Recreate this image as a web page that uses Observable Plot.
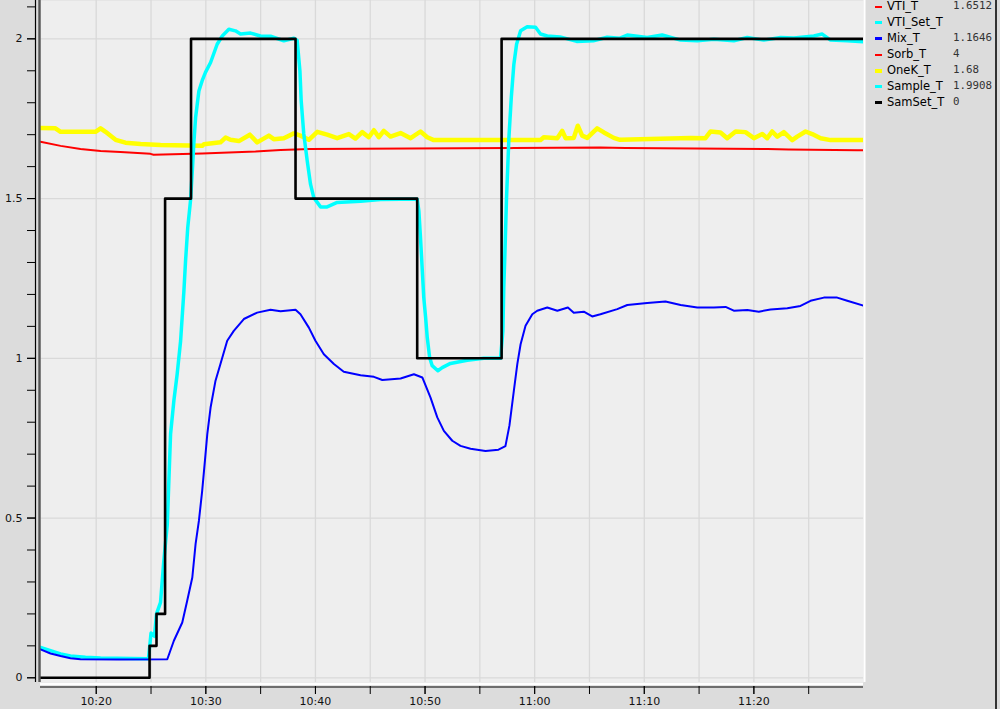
<!DOCTYPE html>
<html>
<head>
<meta charset="utf-8">
<script src="https://cdn.jsdelivr.net/npm/d3@7"></script>
<script src="https://cdn.jsdelivr.net/npm/@observablehq/plot@0.6"></script>
<style>
  html, body { margin: 0; padding: 0; background: #dcdcdc; }
  #wrap { position: relative; width: 1000px; height: 709px; overflow: hidden; background: #dcdcdc; }
  #legend .row { position: absolute; height: 16px; line-height: 16px; white-space: nowrap; }
  #legend .dash { position: absolute; left: 875px; width: 7px; }
  #legend .name { position: absolute; left: 887px; font: 11.5px "DejaVu Sans", sans-serif; color: #000; }
  #legend .val { position: absolute; left: 953px; font: 10.8px "DejaVu Sans Mono", monospace; color: #333; }
  #rborder { position: absolute; left: 995px; top: 0; width: 2px; height: 709px; background: #333; }
</style>
</head>
<body>
<div id="wrap"><div id="chart"></div><div id="legend"></div><div id="rborder"></div></div>
<script>
// ---------- data ----------
const samsetTimes = ["10:14:55","10:24:52","10:25:30","10:26:17","10:28:39","10:38:11","10:49:17","10:56:59","11:30:00"];
const samsetValues = [0, 0.1, 0.2, 1.5, 2, 1.5, 1, 2, 2];

const vtiTimes = ["10:14:55","10:16:45","10:18:34","10:20:24","10:22:13","10:24:57","10:25:14","10:29:40","10:32:06","10:34:32","10:36:49","10:39:28","10:58:04","11:06:00","11:08:17","11:21:15","11:23:10","11:29:26","11:30:00"];
const vtiValues = [1.678,1.665,1.655,1.649,1.646,1.640,1.637,1.641,1.644,1.647,1.652,1.655,1.658,1.660,1.658,1.655,1.654,1.651,1.651];

const mixTimes = ["10:14:55","10:15:50","10:16:45","10:17:39","10:18:34","10:21:57","10:26:29","10:27:05","10:27:51","10:28:18","10:28:46","10:29:04","10:29:22","10:29:40","10:29:55","10:30:08","10:30:26","10:30:53","10:31:20","10:31:57","10:32:33","10:33:28","10:34:41","10:35:54","10:36:49","10:38:11","10:38:38","10:39:24","10:40:00","10:40:46","10:41:41","10:42:35","10:44:07","10:45:20","10:46:06","10:47:46","10:48:59","10:49:45","10:50:30","10:51:07","10:51:43","10:52:29","10:53:14","10:54:09","10:55:31","10:56:42","10:57:20","10:57:42","10:58:06","10:58:25","10:58:43","10:59:10","10:59:47","11:00:14","11:01:09","11:02:04","11:03:02","11:03:34","11:04:29","11:05:15","11:06:00","11:07:32","11:08:27","11:10:16","11:11:56","11:13:19","11:14:50","11:16:21","11:17:25","11:18:10","11:19:24","11:20:27","11:21:31","11:23:03","11:24:15","11:25:10","11:26:23","11:27:36","11:28:31","11:30:00"];
const mixValues = [0.089,0.076,0.068,0.061,0.058,0.057,0.058,0.116,0.173,0.241,0.314,0.419,0.491,0.585,0.679,0.763,0.846,0.930,0.982,1.055,1.086,1.123,1.143,1.152,1.147,1.152,1.138,1.096,1.055,1.013,0.982,0.958,0.947,0.942,0.932,0.937,0.950,0.940,0.877,0.815,0.773,0.742,0.726,0.717,0.710,0.714,0.725,0.790,0.898,0.982,1.044,1.102,1.138,1.149,1.159,1.149,1.159,1.143,1.146,1.131,1.138,1.154,1.167,1.173,1.178,1.167,1.159,1.159,1.161,1.149,1.151,1.146,1.153,1.157,1.164,1.180,1.190,1.190,1.180,1.165];

const sampleTimes = ["10:14:55","10:15:50","10:16:45","10:17:39","10:19:01","10:20:24","10:24:46","10:25:00","10:25:19","10:25:30","10:25:52","10:26:10","10:26:29","10:26:47","10:27:05","10:27:23","10:27:42","10:28:00","10:28:09","10:28:21","10:28:36","10:28:46","10:28:54","10:29:04","10:29:22","10:29:40","10:29:58","10:30:26","10:31:02","10:31:30","10:32:06","10:32:42","10:33:10","10:34:05","10:34:59","10:35:54","10:37:07","10:38:02","10:38:20","10:38:35","10:38:42","10:38:56","10:39:15","10:39:33","10:39:51","10:40:28","10:41:04","10:41:59","10:44:07","10:45:56","10:47:46","10:49:17","10:49:26","10:49:35","10:49:45","10:49:53","10:50:03","10:50:12","10:50:25","10:50:39","10:51:10","10:51:34","10:52:19","10:53:51","10:55:22","10:56:53","10:57:06","10:57:11","10:57:17","10:57:26","10:57:39","10:57:52","10:58:06","10:58:21","10:58:43","10:59:19","11:00:05","11:00:32","11:01:09","11:02:19","11:03:50","11:05:21","11:06:37","11:07:47","11:08:27","11:10:16","11:11:38","11:13:19","11:14:50","11:16:21","11:18:10","11:19:24","11:20:54","11:22:26","11:23:39","11:25:28","11:26:14","11:27:00","11:28:31","11:30:00"];
const sampleValues = [0.095,0.085,0.075,0.068,0.064,0.062,0.060,0.140,0.130,0.200,0.236,0.366,0.480,0.763,0.867,0.950,1.055,1.211,1.305,1.409,1.493,1.587,1.670,1.754,1.837,1.869,1.895,1.926,1.983,2.009,2.030,2.025,2.015,2.018,2.009,2.008,1.994,2.002,1.995,1.900,1.806,1.703,1.618,1.545,1.503,1.474,1.474,1.488,1.492,1.497,1.498,1.498,1.462,1.378,1.274,1.190,1.128,1.065,1.003,0.977,0.961,0.971,0.984,0.994,1.000,1.000,1.086,1.222,1.326,1.503,1.691,1.816,1.920,1.983,2.025,2.038,2.036,2.015,2.009,2.006,1.992,1.994,2.005,2.002,2.012,2.004,2.012,1.996,1.994,1.999,1.994,2.004,1.996,2.004,2.003,2.009,2.015,1.996,1.994,1.991];

const onekTimes = ["10:14:55","10:16:17","10:16:45","10:18:34","10:19:56","10:20:24","10:20:51","10:21:46","10:22:40","10:24:03","10:25:52","10:29:40","10:29:49","10:31:20","10:31:48","10:32:15","10:33:01","10:34:01","10:34:41","10:35:45","10:36:12","10:37:07","10:38:02","10:38:38","10:39:24","10:40:10","10:41:04","10:41:59","10:43:03","10:43:39","10:44:16","10:44:52","10:45:20","10:45:47","10:46:14","10:46:51","10:47:46","10:48:41","10:49:35","10:50:12","10:50:48","11:00:32","11:00:50","11:02:04","11:02:31","11:02:49","11:03:34","11:03:56","11:04:20","11:04:48","11:05:42","11:06:19","11:07:13","11:07:47","11:13:19","11:14:13","11:15:35","11:16:03","11:16:57","11:17:34","11:18:20","11:19:14","11:20:00","11:20:46","11:21:13","11:21:40","11:22:08","11:22:44","11:23:30","11:23:57","11:24:43","11:25:19","11:26:05","11:27:00","11:30:00"];
const onekValues = [1.721,1.720,1.709,1.709,1.709,1.720,1.709,1.684,1.675,1.671,1.668,1.665,1.670,1.676,1.691,1.684,1.680,1.700,1.676,1.697,1.686,1.689,1.704,1.697,1.684,1.709,1.700,1.689,1.702,1.688,1.708,1.692,1.714,1.692,1.712,1.694,1.705,1.689,1.710,1.692,1.683,1.683,1.692,1.689,1.712,1.689,1.690,1.728,1.697,1.690,1.720,1.707,1.690,1.684,1.689,1.690,1.689,1.710,1.707,1.689,1.710,1.708,1.689,1.702,1.689,1.710,1.694,1.708,1.683,1.694,1.710,1.702,1.689,1.683,1.683];

const legendNames = ["VTI_T","VTI_Set_T","Mix_T","Sorb_T","OneK_T","Sample_T","SamSet_T"];
const legendColors = ["#ff0000","#00ffff","#0000ff","#ff0000","#ffff00","#00ffff","#000000"];
const legendValues = ["1.6512","","1.1646","4","1.68","1.9908","0"];

const yMinorTicks = d3.range(0, 22).map(i => i / 10);
const yMajorTicks = [0, 0.5, 1, 1.5, 2];
const xMinorTickLabels = ["10:20","10:25","10:30","10:35","10:40","10:45","10:50","10:55","11:00","11:05","11:10","11:15","11:20","11:25"];
const xMajorTickLabels = ["10:20","10:30","10:40","10:50","11:00","11:10","11:20"];
const xDomain = ["10:14:55","11:30:00"];
const yDomain = [-0.0147, 2.12];

// ---------- build ----------
const parseT = d3.utcParse("%H:%M:%S");
const parseHM = d3.utcParse("%H:%M");
const mk = (ts, vs) => ts.map((t, i) => ({t: parseT(t), v: vs[i]}));

const vti = mk(vtiTimes, vtiValues);
const mix = mk(mixTimes, mixValues);
const sample = mk(sampleTimes, sampleValues);
const onek = mk(onekTimes, onekValues);
const samset = mk(samsetTimes, samsetValues);

const xMin = parseT(xDomain[0]), xMax = parseT(xDomain[1]);
const xMinor = xMinorTickLabels.map(parseHM);
const xMajor = xMajorTickLabels.map(parseHM);

const chart = Plot.plot({
  width: 1000,
  height: 709,
  marginLeft: 40,
  marginRight: 137,
  marginTop: 0,
  marginBottom: 27,
  style: {background: "#dcdcdc", fontFamily: "DejaVu Sans, sans-serif", fontSize: "11px", color: "#111"},
  x: {type: "utc", domain: [xMin, xMax]},
  y: {domain: yDomain},
  marks: [
    Plot.frame({fill: "#eeeeee", stroke: null}),
    Plot.gridX(xMinor, {stroke: "#d9d9d9", strokeOpacity: 1, strokeWidth: 1.3}),
    Plot.gridY(yMajorTicks, {stroke: "#d9d9d9", strokeOpacity: 1, strokeWidth: 1.3}),
    Plot.line(vti, {x: "t", y: "v", stroke: "#ff0000", strokeWidth: 2, clip: true}),
    Plot.line(onek, {x: "t", y: "v", stroke: "#ffff00", strokeWidth: 4.5, clip: true}),
    Plot.line(sample, {x: "t", y: "v", stroke: "#00ffff", strokeWidth: 3.5, clip: true}),
    Plot.line(mix, {x: "t", y: "v", stroke: "#0000ff", strokeWidth: 2, clip: true}),
    Plot.line(samset, {x: "t", y: "v", stroke: "#000000", strokeWidth: 2.6, curve: "step-after", clip: true}),
    // frame edges
    Plot.ruleY([yDomain[0]], {dy: 1.5, stroke: "#ffffff", strokeWidth: 2.5}),
    Plot.ruleX([xMax], {dx: 1, stroke: "#ffffff", strokeWidth: 2}),
    Plot.ruleX([xMin], {dx: -1, stroke: "#555555", strokeWidth: 2.4}),
    // left axis
    Plot.ruleX([xMin], {dx: -5, stroke: "#000", strokeWidth: 1.2}),
    Plot.axisY(yMinorTicks, {anchor: "left", tickSize: 8, dx: -5, tickFormat: () => "", label: null, stroke: "#000"}),
    Plot.axisY(yMajorTicks, {anchor: "left", tickSize: 8, tickPadding: 5, dx: -5, tickFormat: d3.format("~g"), label: null, stroke: "#000", fill: "#111"}),
    // bottom axis
    Plot.ruleY([yDomain[0]], {dy: 4.5, stroke: "#000", strokeWidth: 1.2}),
    Plot.axisX(xMinor, {anchor: "bottom", tickSize: 8, dy: 4, tickFormat: () => "", label: null, stroke: "#000"}),
    Plot.axisX(xMajor, {anchor: "bottom", tickSize: 8, tickPadding: 3, dy: 4, tickFormat: d3.utcFormat("%H:%M"), label: null, stroke: "#000", fill: "#111"})
  ]
});
document.getElementById("chart").appendChild(chart);

// legend
const dashH = [2, 2.7, 2.7, 2, 4, 3, 2.3];
const legend = document.getElementById("legend");
legendNames.forEach((name, i) => {
  const top = -1.5 + 16 * i;
  const row = document.createElement("div");
  row.className = "row";
  row.style.top = top + "px";
  row.style.left = "0px";
  const dash = document.createElement("span");
  dash.className = "dash";
  dash.style.background = legendColors[i];
  dash.style.height = dashH[i] + "px";
  dash.style.top = (8 - dashH[i] / 2) + "px";
  const nm = document.createElement("span");
  nm.className = "name";
  nm.textContent = name;
  const vl = document.createElement("span");
  vl.className = "val";
  vl.textContent = legendValues[i];
  row.append(dash, nm, vl);
  legend.appendChild(row);
});
legend.style.position = "absolute";
legend.style.left = "0px";
legend.style.top = "0px";
</script>
</body>
</html>
